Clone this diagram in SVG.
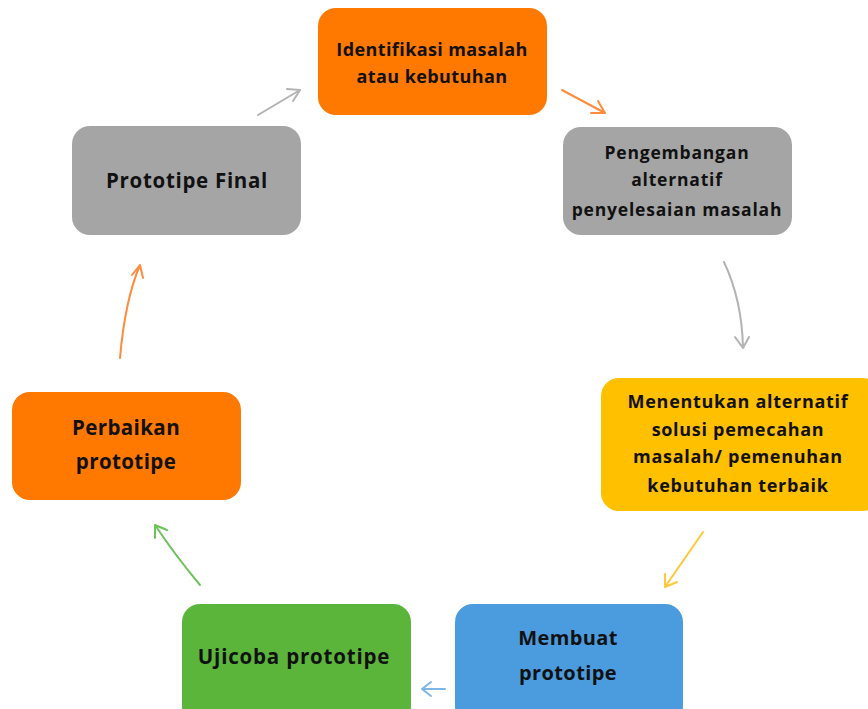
<svg xmlns="http://www.w3.org/2000/svg" width="868" height="709" viewBox="0 0 868 709">
<defs>
<style>
.t{font-family:"Open Sans","Noto Sans",sans-serif;font-weight:700;fill:#111;text-anchor:middle;letter-spacing:0.4px}
.c{fill:none;stroke-width:2;stroke-linecap:round;stroke-linejoin:round}
</style>
</defs>
<rect width="868" height="709" fill="#fff"/>
<g id="n1"><rect x="318" y="8" width="229" height="107" rx="18" fill="#FF7800"/>
<text class="t" font-size="18" x="432" y="56">Identifikasi masalah</text>
<text class="t" font-size="18" x="432" y="83">atau kebutuhan</text></g>
<g id="n2"><rect x="563" y="127" width="229" height="108" rx="18" fill="#A5A5A5"/>
<text class="t" font-size="17.5" x="677" y="159" style="letter-spacing:0.8px">Pengembangan</text>
<text class="t" font-size="17.5" x="677" y="186" style="letter-spacing:0.8px">alternatif</text>
<text class="t" font-size="17.5" x="677" y="216" style="letter-spacing:0.8px">penyelesaian masalah</text></g>
<g id="n3"><rect x="601" y="378" width="280" height="133" rx="18" fill="#FFC000"/>
<text class="t" font-size="18" x="738" y="408" style="letter-spacing:0.7px">Menentukan alternatif</text>
<text class="t" font-size="18" x="738" y="436" style="letter-spacing:0.7px">solusi pemecahan</text>
<text class="t" font-size="18" x="738" y="463" style="letter-spacing:0.7px">masalah/ pemenuhan</text>
<text class="t" font-size="18" x="738" y="492" style="letter-spacing:0.7px">kebutuhan terbaik</text></g>
<g id="n4"><rect x="455" y="604" width="228" height="120" rx="18" fill="#4A9CDF"/>
<text class="t" font-size="20" x="568" y="645">Membuat</text>
<text class="t" font-size="20" x="568" y="680">prototipe</text></g>
<g id="n5"><rect x="182" y="604" width="229" height="120" rx="18" fill="#5BB53B"/>
<text class="t" font-size="20.5" x="294" y="664" style="letter-spacing:0.8px">Ujicoba prototipe</text></g>
<g id="n6"><rect x="12" y="392" width="229" height="108" rx="18" fill="#FF7800"/>
<text class="t" font-size="20.5" x="126" y="435">Perbaikan</text>
<text class="t" font-size="20.5" x="126" y="469">prototipe</text></g>
<g id="n7"><rect x="72" y="126" width="229" height="109" rx="18" fill="#A5A5A5"/>
<text class="t" font-size="20.5" x="187" y="188" style="letter-spacing:0.7px">Prototipe Final</text></g>
<g id="connectors">
<path class="c" stroke="#B3B3B3" d="M258 115 L300 90 M287 89 L300 90 L293 101"/>
<path class="c" stroke="#FF8B3D" d="M562 90 L605 113 M598 101 L605 113 L591 113"/>
<path class="c" stroke="#B3B3B3" d="M724 262 Q742 300 743 348 M735 337 L743 348 L749 337"/>
<path class="c" stroke="#FFC83A" d="M703 532 L665 587 M665 574 L665 587 L677 582"/>
<path class="c" stroke="#7FB6E8" d="M445 689 L422 689 M431 682 L422 689 L431 696"/>
<path class="c" stroke="#6DC35A" d="M200 585 Q175 555 155 525 M155 538 L155 525 L167 530"/>
<path class="c" stroke="#FF8B3D" d="M120 358 Q125 300 140 265 M132 275 L140 265 L143 278"/>
</g>
</svg>
